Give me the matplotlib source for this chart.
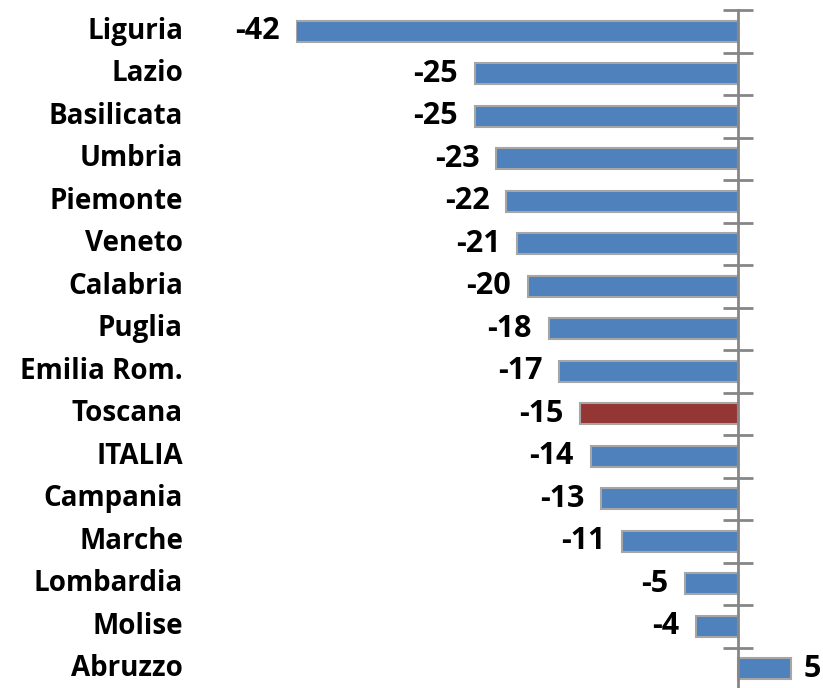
import matplotlib
matplotlib.use("Agg")
import matplotlib.pyplot as plt
import matplotlib.transforms as mtransforms
import numpy as np

# categorie (dall'alto verso il basso) e variazioni
regioni = ["Liguria", "Lazio", "Basilicata", "Umbria", "Piemonte", "Veneto",
           "Calabria", "Puglia", "Emilia Rom.", "Toscana", "ITALIA", "Campania",
           "Marche", "Lombardia", "Molise", "Abruzzo"]
valori = [-42, -25, -25, -23, -22, -21, -20, -18, -17, -15, -14, -13, -11, -5, -4, 5]
evidenza = "Toscana"

BLU = "#4F81BD"
ROSSO = "#943634"
GRIGIO = "#868686"

plt.rcParams["font.family"] = ["Open Sans", "DejaVu Sans"]

W, H = 823, 688
fig = plt.figure(figsize=(W / 100, H / 100), dpi=100)

# asse: -42 a x=296px, zero a x=738px; righe di 42.5px a partire da y=10
x_left, x_zero = 296, 738
ppu = (x_zero - x_left) / 42.0
xmin, xmax = -42, (W - x_zero) / ppu
row = 42.5
ax_h = row * len(regioni)
ax = fig.add_axes([x_left / W, (H - 10 - ax_h) / H, 1 - x_left / W, ax_h / H])

y = np.arange(len(regioni))
colori = [ROSSO if r == evidenza else BLU for r in regioni]
ax.barh(y, valori, height=0.5, color=colori, edgecolor="#A6A6A6", linewidth=1.5, zorder=2)

ax.set_xlim(xmin, xmax)
ax.set_ylim(len(regioni) - 0.5, -0.5)

for s in ["top", "right", "bottom"]:
    ax.spines[s].set_visible(False)
ax.spines["left"].set_position(("data", 0))
ax.spines["left"].set_color(GRIGIO)
ax.spines["left"].set_linewidth(2)
ax.spines["left"].set_zorder(3)
ax.set_xticks([])
ax.set_yticks(y)
ax.set_yticklabels([])
ax.tick_params(axis="y", which="major", length=0)
ax.set_yticks(np.arange(-0.5, len(regioni) + 0.5, 1), minor=True)
ax.tick_params(axis="y", which="minor", direction="inout", length=22, width=2, color=GRIGIO)

# etichette categorie
trans = mtransforms.blended_transform_factory(fig.transFigure, ax.transData)
for yi, r in zip(y, regioni):
    ax.text(183 / W, yi, r, transform=trans, ha="right", va="center",
            fontsize=20, fontweight="bold", color="black")

# etichette valori
for yi, v in zip(y, valori):
    if v < 0:
        ax.annotate(str(v), (v, yi), xytext=(-12, 0), textcoords="offset points",
                    ha="right", va="center", fontsize=22, fontweight="bold")
    else:
        ax.annotate(str(v), (v, yi), xytext=(9, 0), textcoords="offset points",
                    ha="left", va="center", fontsize=22, fontweight="bold")

fig.savefig("out.png", dpi=100)
